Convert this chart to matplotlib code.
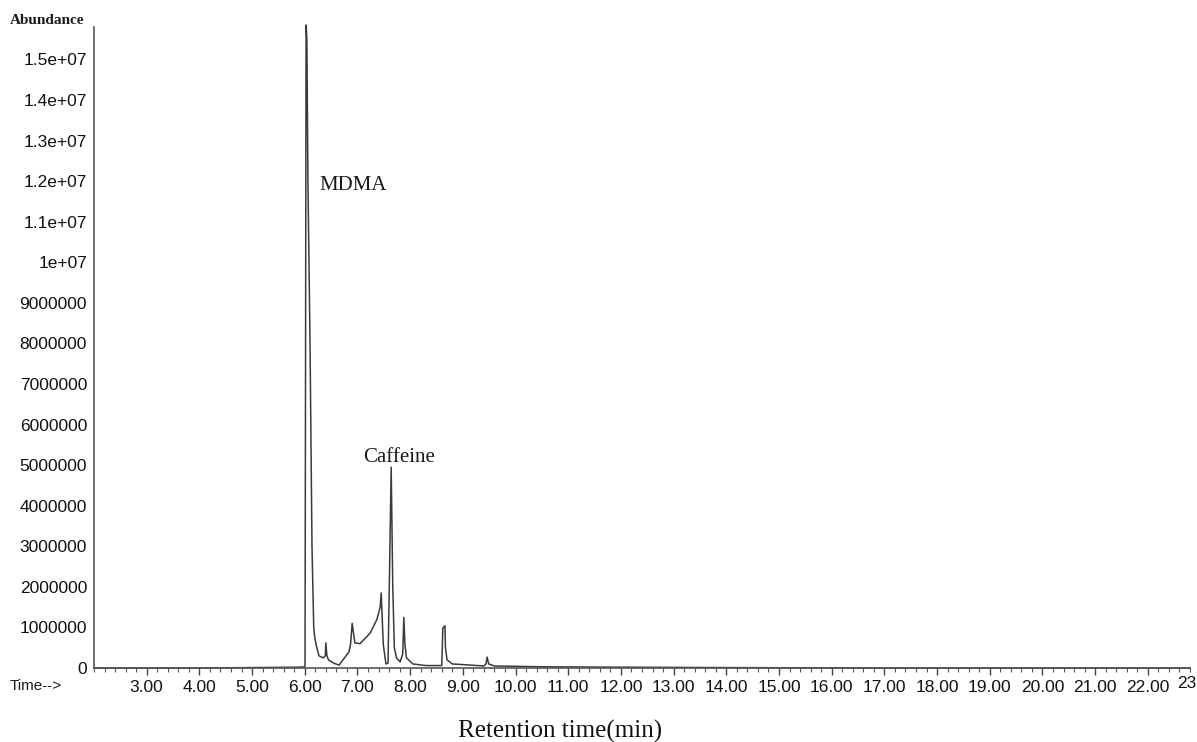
import matplotlib
matplotlib.use("Agg")
import matplotlib.pyplot as plt
from matplotlib.ticker import MultipleLocator, FixedLocator, FixedFormatter
import matplotlib.transforms as mtransforms

# Retention time (min) and abundance (x1e6)
time_min = [2.00, 4.00, 5.90, 6.00, 6.005, 6.015, 6.025, 6.04, 6.06, 6.10, 6.137,
            6.17, 6.19, 6.22, 6.27, 6.35, 6.39, 6.40, 6.42, 6.45, 6.55, 6.65,
            6.84, 6.87, 6.90, 6.95, 7.05, 7.24, 7.37, 7.43, 7.45, 7.49, 7.54,
            7.58, 7.61, 7.64, 7.67, 7.70, 7.74, 7.81, 7.86, 7.88, 7.90, 7.93,
            8.05, 8.30, 8.60, 8.61, 8.62, 8.66, 8.67, 8.70, 8.80, 9.40, 9.44,
            9.46, 9.49, 9.60, 10.5, 12.0, 14.0, 17.0, 22.8]
abundance = [0.00, 0.00, 0.02, 0.03, 0.10, 7.7, 15.85, 15.5, 12.0, 8.0, 3.0,
             1.0, 0.75, 0.55, 0.30, 0.25, 0.30, 0.62, 0.30, 0.20, 0.12, 0.07,
             0.40, 0.60, 1.10, 0.62, 0.60, 0.86, 1.20, 1.50, 1.85, 0.58, 0.10,
             0.12, 2.50, 4.95, 2.00, 0.50, 0.25, 0.15, 0.35, 1.25, 0.60, 0.25,
             0.10, 0.06, 0.06, 0.50, 0.98, 1.04, 0.50, 0.20, 0.10, 0.05, 0.10,
             0.27, 0.10, 0.05, 0.03, 0.02, 0.01, 0.00, 0.00]
abundance = [a * 1e6 for a in abundance]

y_ticks = [0, 1e6, 2e6, 3e6, 4e6, 5e6, 6e6, 7e6, 8e6, 9e6, 1e7, 1.1e7, 1.2e7, 1.3e7, 1.4e7, 1.5e7]
y_tick_labels = ["0", "1000000", "2000000", "3000000", "4000000", "5000000", "6000000",
                 "7000000", "8000000", "9000000", "1e+07", "1.1e+07", "1.2e+07",
                 "1.3e+07", "1.4e+07", "1.5e+07"]
x_ticks = [3, 4, 5, 6, 7, 8, 9, 10, 11, 12, 13, 14, 15, 16, 17, 18, 19, 20, 21, 22]
x_tick_labels = ["%.2f" % v for v in x_ticks]

peak_labels = ["MDMA", "Caffeine"]
peak_label_pos = [(6.27, 11.9e6), (7.10, 5.19e6)]

W, H = 1197, 742
fig = plt.figure(figsize=(W / 100, H / 100), dpi=100)
left, bottom = 94 / W, (H - 668) / H
ax = fig.add_axes([left, bottom, 1190 / W - left, (H - 27) / H - bottom])

ax.plot(time_min, abundance, color="#3a3a3a", lw=1.1, clip_on=False)

ax.set_xlim(2.0, 22.8)
ax.set_ylim(0, 15.8e6)

for s in ["top", "right"]:
    ax.spines[s].set_visible(False)
for s in ["left", "bottom"]:
    ax.spines[s].set_color("#555555")
    ax.spines[s].set_linewidth(1.2)

ax.yaxis.set_major_locator(FixedLocator(y_ticks))
ax.yaxis.set_major_formatter(FixedFormatter(y_tick_labels))
ax.tick_params(axis="y", length=0, pad=5, labelsize=12.5, labelcolor="#111111")

ax.xaxis.set_major_locator(FixedLocator(x_ticks))
ax.xaxis.set_major_formatter(FixedFormatter(x_tick_labels))
ax.xaxis.set_minor_locator(MultipleLocator(0.2))
ax.tick_params(axis="x", which="major", length=5, width=1.0, color="#444444",
               pad=4, labelsize=12.5, labelcolor="#111111")
ax.tick_params(axis="x", which="minor", length=3, width=0.8, color="#555555")

for lab in ax.get_xticklabels() + ax.get_yticklabels():
    lab.set_family("Liberation Sans")

trans = mtransforms.blended_transform_factory(ax.transData, ax.transAxes)
ax.text(22.73, -0.0125, "23", transform=trans, ha="center", va="top",
        fontsize=12.5, family="Liberation Sans", color="#111111", clip_on=False)

for name, (tx, ty) in zip(peak_labels, peak_label_pos):
    ax.text(tx, ty, name, ha="left", va="center", fontsize=15,
            family="Liberation Serif", color="#1a1a1a")

fig.text(10 / W, (H - 20) / H, "Abundance", ha="left", va="center", fontsize=11,
         family="Liberation Serif", fontweight="bold", color="#1a1a1a")
fig.text(10 / W, (H - 686) / H, "Time-->", ha="left", va="center", fontsize=11,
         family="Liberation Sans", color="#1a1a1a")
fig.text(560 / W, (H - 731) / H, "Retention time(min)", ha="center", va="center",
         fontsize=18, family="Liberation Serif", color="#111111")

fig.savefig("out.png", dpi=100)
